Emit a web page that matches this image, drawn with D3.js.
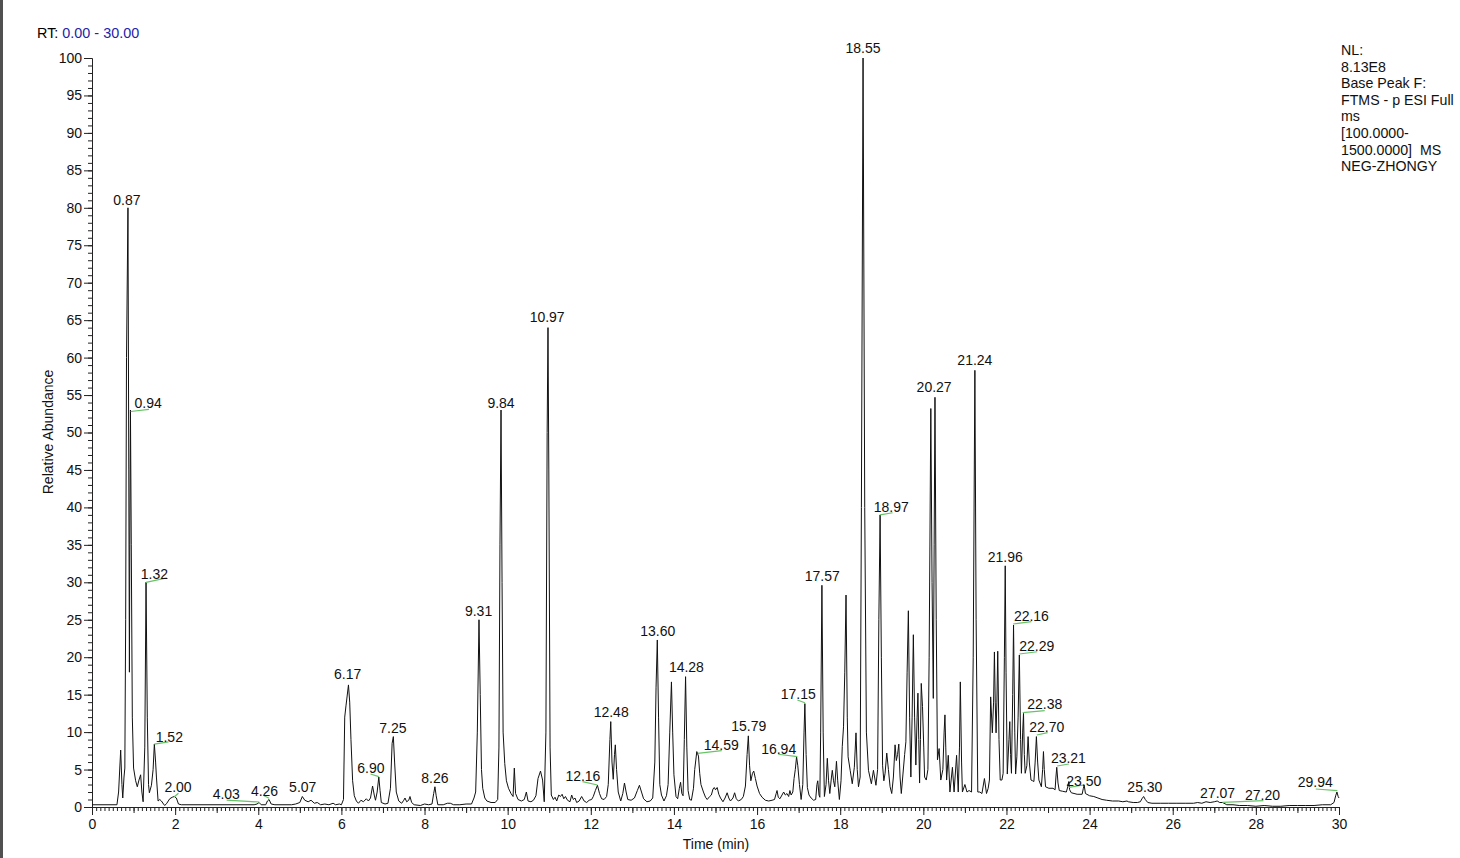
<!DOCTYPE html>
<html><head><meta charset="utf-8">
<script src="https://cdn.jsdelivr.net/npm/d3@7"></script>
<style>
html,body{margin:0;padding:0;background:#fff;}
svg{display:block;font-family:"Liberation Sans",Arial,sans-serif;}
</style></head>
<body>
<svg id="chart" width="1460" height="858"></svg>
<script>
// ---------------- data ----------------
const rtRange = [0, 30];
const abundanceRange = [0, 100];
const xMajorTicks = d3.range(0, 31, 2);
const yMajorTicks = d3.range(0, 101, 5);
const legendLines = ["NL:", "8.13E8", "Base Peak F:", "FTMS - p ESI Full", "ms", "[100.0000-", "1500.0000]\u00a0\u00a0MS", "NEG-ZHONGY"];
const xTitle = "Time (min)";
const yTitle = "Relative Abundance";

// chromatogram trace: [retention time (min), relative abundance (%)]
const trace = [
[0.00,0.3],[0.60,0.3],[0.64,2.0],[0.69,7.6],[0.72,3.0],[0.74,1.2],[0.77,4.0],[0.79,5.2],[0.81,25],[0.83,60],[0.865,80],[0.885,45],[0.90,18],[0.91,35],[0.925,53],[0.945,35],[0.97,12],[1.00,5.2],[1.05,3.5],[1.09,2.7],[1.13,3.6],[1.17,4.3],[1.20,2.0],[1.23,0.7],[1.27,8],[1.30,30],[1.33,12],[1.36,3],[1.38,1.9],[1.43,2.9],[1.47,5],[1.50,8.4],[1.53,6],[1.55,4.0],[1.59,0.8],[1.63,1.0],[1.67,0.8],[1.72,0.4],[1.75,0.2],[1.80,0.5],[1.87,1.1],[1.93,1.3],[1.98,1.4],[2.03,1.2],[2.08,0.4],[2.15,0.3],
[3.90,0.3],[3.97,0.4],[4.02,0.6],[4.07,0.3],[4.18,0.3],[4.22,0.8],[4.26,1.0],[4.31,0.4],[4.40,0.3],[4.80,0.3],[4.90,0.4],[5.00,0.6],[5.06,1.4],[5.12,0.9],[5.20,0.7],[5.27,0.9],[5.35,0.5],[5.42,0.6],[5.50,0.3],[5.60,0.4],[5.70,0.3],[5.80,0.5],[5.86,0.3],[5.95,0.4],[6.00,0.3],
[6.05,1.0],[6.08,12],[6.11,13.5],[6.17,16.3],[6.20,14],[6.23,9],[6.27,3.5],[6.31,1.5],[6.36,0.8],[6.41,0.5],[6.47,0.9],[6.53,0.7],[6.60,1.1],[6.65,0.8],[6.70,1.2],[6.75,2.8],[6.79,1.6],[6.82,0.9],[6.86,2.0],[6.90,4.0],[6.93,2.2],[6.96,0.6],[7.05,0.4],[7.12,0.5],[7.18,2.5],[7.22,8.5],[7.25,9.4],[7.28,6],[7.32,2.0],[7.38,0.8],[7.45,0.5],[7.50,0.9],[7.53,1.2],[7.57,0.7],[7.62,0.9],[7.65,1.4],[7.69,0.6],[7.75,0.3],[7.90,0.2],[8.00,0.4],[8.10,0.3],[8.18,0.4],[8.22,1.8],[8.25,2.7],[8.28,1.5],[8.32,0.3],[8.45,0.3],[8.55,0.5],[8.62,0.5],[8.70,0.3],[8.85,0.3],[9.00,0.4],[9.13,0.4],[9.19,1.2],[9.23,2.0],[9.27,10],[9.31,25],[9.34,15],[9.37,5],[9.40,2.5],[9.45,1.2],[9.50,0.8],[9.60,0.6],[9.70,0.6],[9.76,1.0],[9.79,8],[9.815,35],[9.84,53],[9.865,30],[9.89,10],[9.93,5.8],[9.97,3.5],[10.02,2.5],[10.08,1.8],[10.13,1.4],[10.16,5.2],[10.19,1.8],[10.25,1.0],[10.33,0.8],[10.40,1.0],[10.45,2.0],[10.49,0.8],[10.56,0.7],[10.62,0.9],[10.68,1.5],[10.73,3.8],[10.79,4.8],[10.84,3.6],[10.88,0.7],[10.92,10],[10.95,50],[10.97,64],[10.99,45],[11.02,8],[11.05,1.6],[11.10,1.0],[11.14,1.3],[11.18,0.8],[11.23,1.6],[11.27,1.4],[11.31,1.7],[11.35,1.1],[11.39,1.4],[11.44,0.9],[11.50,0.7],[11.54,1.6],[11.58,1.0],[11.62,1.2],[11.66,0.6],[11.72,0.8],[11.78,1.4],[11.84,0.8],[11.90,0.6],[11.96,0.9],[12.02,1.0],[12.06,1.4],[12.11,2.2],[12.16,2.9],[12.21,1.8],[12.26,1.1],[12.32,1.0],[12.38,1.4],[12.42,3],[12.46,9],[12.48,11.4],[12.51,6],[12.54,3.7],[12.57,7],[12.59,8.3],[12.62,5],[12.66,2.0],[12.72,0.8],[12.77,1.8],[12.81,3.2],[12.85,2.0],[12.89,1.0],[12.97,0.9],[13.05,1.2],[13.12,2.2],[13.17,2.9],[13.22,2.0],[13.27,1.1],[13.35,0.7],[13.43,0.8],[13.49,1.2],[13.54,6],[13.57,16],[13.60,22.3],[13.63,12],[13.66,3],[13.70,1.6],[13.76,0.8],[13.82,1.5],[13.86,3.0],[13.90,10],[13.94,16.7],[13.97,10],[14.00,4.3],[14.05,1.4],[14.09,1.1],[14.13,2.5],[14.16,3.3],[14.19,1.8],[14.22,1.5],[14.25,9],[14.28,17.4],[14.31,8],[14.34,2.2],[14.38,1.0],[14.42,0.9],[14.47,2.5],[14.50,5.0],[14.55,7.4],[14.59,6.8],[14.62,4.5],[14.65,3.0],[14.71,2.0],[14.76,1.3],[14.80,1.0],[14.86,1.4],[14.90,1.6],[14.94,2.4],[14.97,2.6],[15.00,2.3],[15.04,2.6],[15.08,1.7],[15.12,1.2],[15.18,0.7],[15.23,1.2],[15.28,1.9],[15.32,1.2],[15.36,0.8],[15.42,1.2],[15.46,1.9],[15.50,1.1],[15.55,0.8],[15.62,1.0],[15.67,1.4],[15.72,2.8],[15.76,7],[15.79,9.5],[15.82,5.5],[15.85,3.5],[15.89,4.5],[15.92,4.8],[15.96,3.8],[16.00,2.8],[16.06,1.8],[16.12,1.3],[16.20,0.9],[16.28,0.8],[16.36,0.9],[16.42,1.0],[16.46,1.8],[16.48,2.2],[16.51,1.3],[16.55,1.1],[16.60,1.6],[16.64,2.0],[16.68,1.6],[16.72,1.8],[16.76,1.4],[16.79,2.2],[16.82,1.6],[16.86,2.0],[16.89,3.8],[16.92,5.0],[16.95,6.7],[16.98,5.5],[17.02,3.0],[17.06,1.0],[17.10,3],[17.13,10],[17.15,13.8],[17.18,7],[17.21,2.6],[17.25,1.6],[17.30,1.2],[17.36,0.9],[17.41,1.0],[17.44,3.0],[17.46,3.5],[17.49,1.6],[17.51,1.3],[17.53,10],[17.56,29.6],[17.59,10],[17.62,1.4],[17.66,3],[17.69,6.5],[17.72,3.5],[17.75,1.8],[17.79,4.0],[17.81,4.9],[17.84,3.5],[17.87,2.7],[17.91,6.1],[17.94,3.5],[17.98,1.0],[18.02,3.5],[18.05,8.1],[18.08,10.7],[18.11,18],[18.14,28.3],[18.17,12],[18.19,6.7],[18.24,4.9],[18.29,3.1],[18.34,5.3],[18.38,9.9],[18.41,5],[18.44,2.7],[18.48,4],[18.51,40],[18.55,100],[18.59,40],[18.63,10],[18.68,4.9],[18.75,3.1],[18.80,4.9],[18.86,2.9],[18.90,5],[18.93,25],[18.96,39],[18.99,20],[19.02,5.5],[19.05,3.5],[19.08,4.5],[19.12,7.2],[19.16,5],[19.20,2.7],[19.24,1.8],[19.28,4],[19.32,8.3],[19.35,6.2],[19.38,7],[19.41,8.4],[19.44,4],[19.47,1.8],[19.51,4.4],[19.55,7],[19.58,8.7],[19.61,18],[19.64,26.2],[19.67,12],[19.70,4.0],[19.73,12],[19.76,23],[19.79,12],[19.82,5.6],[19.85,12],[19.87,15.2],[19.89,9],[19.91,3.2],[19.93,9],[19.95,16.5],[19.98,13.4],[20.01,8],[20.03,4.0],[20.07,3.6],[20.11,5],[20.14,20],[20.18,53.2],[20.21,30],[20.24,14.5],[20.26,35],[20.28,54.7],[20.31,25],[20.34,6.3],[20.38,7.8],[20.42,3.6],[20.47,5],[20.50,10],[20.52,12.3],[20.54,8],[20.56,3.6],[20.60,6.9],[20.64,2.0],[20.70,5.3],[20.74,2.0],[20.80,6.9],[20.84,2.0],[20.87,8],[20.89,16.7],[20.92,6],[20.94,2.0],[21.00,3.0],[21.05,2.0],[21.10,2.2],[21.16,2.0],[21.20,20],[21.24,58.3],[21.27,25],[21.31,2.0],[21.36,2.0],[21.41,1.8],[21.47,3.8],[21.52,1.8],[21.56,2.5],[21.59,3.6],[21.62,14.7],[21.66,9.9],[21.69,14],[21.71,20.7],[21.73,14],[21.75,9.9],[21.77,14],[21.79,20.8],[21.82,9],[21.85,3.6],[21.89,3.6],[21.92,4.5],[21.95,20],[21.97,32.2],[21.99,18],[22.02,4.4],[22.06,9],[22.08,11.4],[22.10,7],[22.12,4.5],[22.15,15],[22.17,24.3],[22.20,10],[22.22,4.4],[22.25,6.7],[22.28,12],[22.31,20.3],[22.34,9],[22.36,4.5],[22.39,10],[22.41,12.5],[22.43,7],[22.45,4.5],[22.49,5.5],[22.52,9.4],[22.55,6],[22.59,3.6],[22.63,3.5],[22.66,3.4],[22.69,6],[22.72,9.4],[22.75,6],[22.78,3.6],[22.84,2.7],[22.87,5],[22.89,7.4],[22.91,5],[22.94,2.7],[23.02,2.5],[23.12,2.5],[23.17,2.3],[23.19,4],[23.21,5.3],[23.24,3.2],[23.27,2.2],[23.35,2.1],[23.44,2.0],[23.48,2.8],[23.50,3.4],[23.52,2.3],[23.56,1.9],[23.70,1.7],[23.82,1.7],[23.85,2.5],[23.87,2.9],[23.90,1.8],[24.00,1.5],[24.10,1.4],[24.20,1.2],[24.30,1.0],[24.41,0.9],[24.55,0.8],[24.70,0.8],[24.80,0.7],[24.90,0.8],[24.93,0.7],[25.05,0.6],[25.15,0.6],[25.22,0.7],[25.26,1.1],[25.30,1.4],[25.34,1.0],[25.40,0.6],[25.50,0.5],[25.70,0.5],[25.90,0.5],[26.10,0.5],[26.30,0.5],[26.50,0.5],[26.60,0.6],[26.70,0.5],[26.80,0.7],[26.90,0.6],[27.00,0.7],[27.07,0.8],[27.13,0.6],[27.20,0.6],[27.30,0.3],[27.45,0.3],[27.60,0.2],[27.80,0.2],[28.00,0.1],[28.20,0.2],[28.40,0.1],[28.60,0.1],[28.80,0.2],[29.00,0.2],[29.20,0.2],[29.40,0.2],[29.60,0.3],[29.80,0.3],[29.88,0.6],[29.92,1.5],[29.95,2.0],[29.98,1.4],[30.00,1.2]
];

// peak annotations: text, text anchor (lt, la) in data units, optional leader from (t,a) to (et,ea)
const peakLabels = [
{text:"0.87", lt:0.84, la:80.4},
{text:"0.94", lt:1.35, la:53.3, t:0.93, a:52.8, et:1.37, ea:53.1},
{text:"1.32", lt:1.50, la:30.4, t:1.30, a:30.0, et:1.80, ea:30.6},
{text:"1.52", lt:1.86, la:8.7, t:1.50, a:8.4, et:1.84, ea:8.7},
{text:"2.00", lt:2.07, la:2.04, t:1.98, a:1.38, et:2.08, ea:1.83},
{text:"4.03", lt:3.23, la:1.03, t:4.02, a:0.67, et:3.24, ea:0.93},
{text:"4.26", lt:4.15, la:1.5, t:4.26, a:1.16, et:4.14, ea:1.5},
{text:"5.07", lt:5.07, la:2.04},
{text:"6.17", lt:6.15, la:17.05},
{text:"6.90", lt:6.71, la:4.58, t:6.90, a:4.05, et:6.70, ea:4.4},
{text:"7.25", lt:7.24, la:9.92},
{text:"8.26", lt:8.25, la:3.24},
{text:"9.31", lt:9.30, la:25.5},
{text:"9.84", lt:9.84, la:53.3},
{text:"10.97", lt:10.95, la:64.75},
{text:"12.16", lt:11.81, la:3.47, t:12.16, a:2.94, et:11.80, ea:3.38},
{text:"12.48", lt:12.49, la:11.98},
{text:"13.60", lt:13.61, la:22.87},
{text:"14.28", lt:14.30, la:17.98},
{text:"14.59", lt:15.14, la:7.61, t:14.57, a:7.17, et:15.15, ea:7.52},
{text:"15.79", lt:15.80, la:10.15},
{text:"16.94", lt:16.52, la:7.08, t:16.97, a:6.72, et:16.51, ea:7.04},
{text:"17.15", lt:16.99, la:14.42, t:17.15, a:13.92, et:16.97, ea:14.29},
{text:"17.57", lt:17.57, la:30.21},
{text:"18.55", lt:18.55, la:100.67},
{text:"18.97", lt:19.23, la:39.43, t:18.96, a:38.99, et:19.26, ea:39.29},
{text:"20.27", lt:20.26, la:55.45},
{text:"21.24", lt:21.24, la:59.0},
{text:"21.96", lt:21.97, la:32.75},
{text:"22.16", lt:22.60, la:24.83, t:22.16, a:24.43, et:22.60, ea:24.74},
{text:"22.29", lt:22.73, la:20.83, t:22.31, a:20.43, et:22.74, ea:20.73},
{text:"22.38", lt:22.92, la:13.04, t:22.39, a:12.59, et:22.92, ea:12.86},
{text:"22.70", lt:22.97, la:10.05, t:22.73, a:9.61, et:22.99, ea:9.92},
{text:"23.21", lt:23.49, la:5.83, t:23.22, a:5.47, et:23.50, ea:5.74},
{text:"23.50", lt:23.86, la:2.80, t:23.50, a:2.63, et:23.86, ea:2.94},
{text:"25.30", lt:25.33, la:2.04},
{text:"27.07", lt:27.08, la:1.16},
{text:"27.20", lt:28.16, la:0.93, t:27.20, a:0.63, et:28.18, ea:0.84},
{text:"29.94", lt:29.43, la:2.63, t:29.96, a:2.18, et:29.44, ea:2.40}
];

// ---------------- drawing ----------------
const svg = d3.select("#chart");
const FONT = 14;

svg.append("rect").attr("x",0).attr("y",0).attr("width",3).attr("height",858).attr("fill","#505050");

const x = d3.scaleLinear().domain(rtRange).range([92, 1339]);
const y = d3.scaleLinear().domain(abundanceRange).range([807, 58]);

// RT header
const rt = svg.append("text").attr("x",37).attr("y",38).attr("font-size",14.4).attr("xml:space","preserve");
rt.append("tspan").attr("fill","#000").text("RT:\u00a0");
rt.append("tspan").attr("fill","#2323a8").text(rtRange[0].toFixed(2) + " - " + rtRange[1].toFixed(2));

// Y axis
const yMinor = svg.append("g").attr("transform","translate(92,0)")
  .call(d3.axisLeft(y).tickValues(d3.range(0,101,1)).tickSize(4).tickFormat(""));
const yMaj = svg.append("g").attr("transform","translate(92,0)")
  .call(d3.axisLeft(y).tickValues(yMajorTicks).tickSize(8).tickPadding(2).tickFormat(d3.format("d")));
// X axis
const xMinor = svg.append("g").attr("transform","translate(0,807)")
  .call(d3.axisBottom(x).tickValues(d3.range(0,301,1).map(d=>d/10)).tickSize(4).tickFormat(""));
const xMid = svg.append("g").attr("transform","translate(0,807)")
  .call(d3.axisBottom(x).tickValues(d3.range(1,30,2)).tickSize(6).tickFormat(""));
const xMaj = svg.append("g").attr("transform","translate(0,807)")
  .call(d3.axisBottom(x).tickValues(xMajorTicks).tickSize(8).tickPadding(4).tickFormat(d3.format("d")));

[yMinor,yMaj,xMinor,xMid,xMaj].forEach(g=>{
  g.selectAll("path").attr("stroke","#222").attr("stroke-width",1);
  g.selectAll("line").attr("stroke","#222").attr("stroke-width",1);
  g.selectAll("text").attr("font-size",FONT).attr("fill","#111").attr("font-family","'Liberation Sans',Arial,sans-serif");
});
yMinor.select(".domain").remove(); xMinor.select(".domain").remove(); xMid.select(".domain").remove();

// axis titles
svg.append("text").attr("x",716).attr("y",849).attr("text-anchor","middle")
  .attr("font-size",FONT).attr("fill","#111").text(xTitle);
svg.append("text").attr("transform","translate(53,432) rotate(-90)").attr("text-anchor","middle")
  .attr("font-size",FONT).attr("fill","#111").text(yTitle);

// trace
const line = d3.line().x(d=>x(d[0])).y(d=>y(d[1]));
svg.append("path").datum(trace).attr("d",line)
  .attr("fill","none").attr("stroke","#111").attr("stroke-width",1).attr("stroke-linejoin","round");

// leader lines
svg.append("g").selectAll("line").data(peakLabels.filter(d=>d.et!==undefined)).join("line")
  .attr("x1",d=>x(d.t)).attr("y1",d=>y(d.a)).attr("x2",d=>x(d.et)).attr("y2",d=>y(d.ea))
  .attr("stroke","#66c466").attr("stroke-width",1.2);

// peak labels
svg.append("g").selectAll("text").data(peakLabels).join("text")
  .attr("x",d=>x(d.lt)).attr("y",d=>y(d.la)).attr("text-anchor","middle")
  .attr("font-size",FONT).attr("fill","#111").text(d=>d.text);

// legend block
svg.append("g").selectAll("text").data(legendLines).join("text")
  .attr("x",1341).attr("y",(d,i)=>55 + i*16.6)
  .attr("font-size",14.2).attr("fill","#111").text(d=>d);
</script>
</body></html>
